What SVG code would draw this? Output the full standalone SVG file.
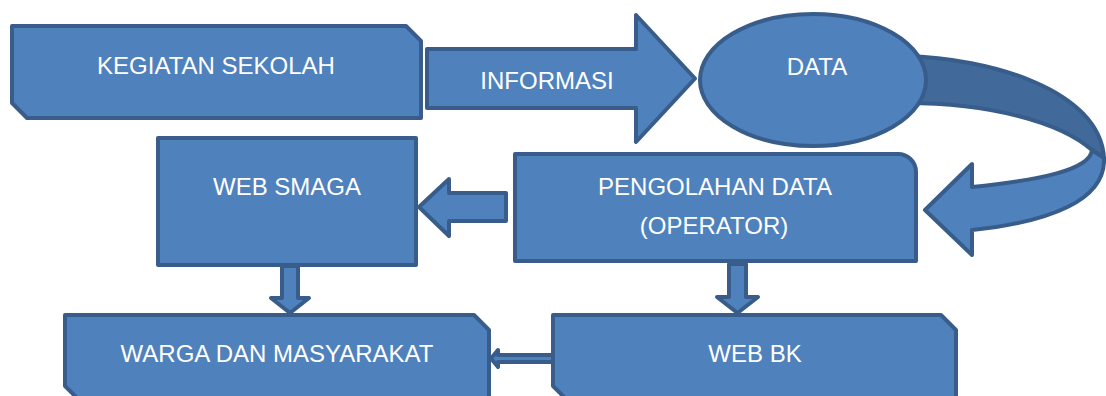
<svg xmlns="http://www.w3.org/2000/svg" width="1106" height="396" viewBox="0 0 1106 396">
<style>
.s{fill:#4f81bd;stroke:#385d8a;stroke-width:4;stroke-linejoin:round}
.d{fill:#41699a;stroke:#385d8a;stroke-width:4;stroke-linejoin:round}
.t{font-family:"Liberation Sans",Arial,sans-serif;font-size:24px;fill:#ffffff;text-anchor:middle}
</style>
<rect width="1106" height="396" fill="#ffffff"/>
<g id="connectors">
<path class="s" d="M427,49 H636 V15 L695,78.5 L636,142 V108 H427 Z"/>
<path class="d" d="M905,56 C990,58 1100,90 1104,158 L1092,150 C1060,122 990,103 905,103 Z"/>
<path class="s" d="M1092,150 L1104,158 C1106,200 1050,222 972,230 V255 L925,210 L972,164 V187 C1040,180 1090,170 1092,150 Z"/>
<path class="s" d="M506,193 H449 V179 L419,207 L449,236 V221 H506 Z"/>
<path class="s" d="M282,266 V298 H271 L290,313 L309,298 H298 V266 Z"/>
<path class="s" d="M729,264 V297 H717 L737.5,313 L758,297 H746 V264 Z"/>
<path class="s" d="M553,355 H498 V350 L491,358.5 L498,367 V362 H553 Z"/>
</g>
<g id="kegiatan">
<path class="s" d="M12,26 H406 L421,41 V118 H27 L12,103 Z"/>
<text class="t" x="216" y="74">KEGIATAN SEKOLAH</text>
</g>
<g id="informasi">
<text class="t" x="547" y="89">INFORMASI</text>
</g>
<g id="data">
<ellipse class="s" cx="813" cy="80" rx="113" ry="66"/>
<text class="t" x="817" y="75">DATA</text>
</g>
<g id="pengolahan">
<path class="s" d="M515,154 H898 A18,18 0 0 1 916,172 V261 H515 Z"/>
<text class="t" x="715" y="195">PENGOLAHAN DATA</text>
<text class="t" x="714" y="234">(OPERATOR)</text>
</g>
<g id="websmaga">
<rect class="s" x="158" y="138" width="258" height="127"/>
<text class="t" x="287" y="195">WEB SMAGA</text>
</g>
<g id="warga">
<path class="s" d="M65,315 H474 L489,330 V401 H80 L65,386 Z"/>
<text class="t" x="277" y="362">WARGA DAN MASYARAKAT</text>
</g>
<g id="webbk">
<path class="s" d="M553,315 H941 L956,330 V401 H568 L553,386 Z"/>
<text class="t" x="755" y="362">WEB BK</text>
</g>
</svg>
